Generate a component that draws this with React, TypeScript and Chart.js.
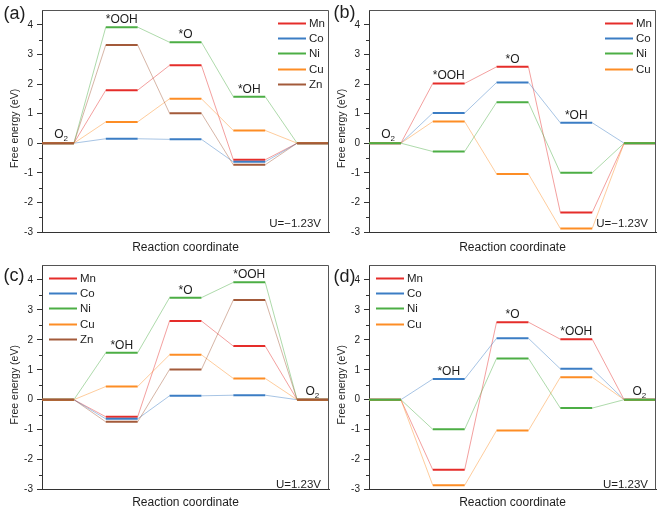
import React, { useEffect, useRef } from 'react';
import { Chart, registerables } from 'chart.js';
Chart.register(...registerables);

// ---------- data ----------
const yTickValues = [-3, -2, -1, 0, 1, 2, 3, 4];
const yMinorTicks = [-2.5, -1.5, -0.5, 0.5, 1.5, 2.5, 3.5];

const metals5 = ['Mn', 'Co', 'Ni', 'Cu', 'Zn'];
const metals4 = ['Mn', 'Co', 'Ni', 'Cu'];

// U = -1.23 V, steps: O2, *OOH, *O, *OH, end
const stepsOER = ['O2', '*OOH', '*O', '*OH', ''];
// U = 1.23 V, steps: start, *OH, *O, *OOH, O2
const stepsORR = ['', '*OH', '*O', '*OOH', 'O2'];

// panel (a)
const mnA = [0, 1.79, 2.63, -0.56, 0];
const coA = [0, 0.15, 0.13, -0.63, 0];
const niA = [0, 3.92, 3.41, 1.57, 0];
const cuA = [0, 0.72, 1.5, 0.43, 0];
const znA = [0, 3.32, 1.01, -0.73, 0];

// panel (b)
const mnB = [0, 2.02, 2.58, -2.34, 0];
const coB = [0, 1.02, 2.05, 0.69, 0];
const niB = [0, -0.28, 1.38, -1.0, 0];
const cuB = [0, 0.73, -1.04, -2.88, 0];

// panel (c)
const mnC = [0, -0.57, 2.63, 1.79, 0];
const coC = [0, -0.64, 0.13, 0.15, 0];
const niC = [0, 1.57, 3.41, 3.92, 0];
const cuC = [0, 0.44, 1.5, 0.71, 0];
const znC = [0, -0.74, 1.01, 3.33, 0];

// panel (d)
const mnD = [0, -2.34, 2.59, 2.02, 0];
const coD = [0, 0.69, 2.05, 1.03, 0];
const niD = [0, -0.99, 1.38, -0.28, 0];
const cuD = [0, -2.86, -1.03, 0.75, 0];

// ---------- styles ----------
const COLORS: Record<string, string> = {
  Mn: '#e52d2a',
  Co: '#3b7dc4',
  Ni: '#4cae45',
  Cu: '#fd8d25',
  Zn: '#a35a3a',
};
const FONT = "'Liberation Sans', Arial, sans-serif";
const TEXT = '#1e1e1e';

function fade(hex: string, a: number) {
  const n = parseInt(hex.slice(1), 16);
  return `rgba(${(n >> 16) & 255},${(n >> 8) & 255},${n & 255},${a})`;
}

const decorPlugin = {
  id: 'decor',
  afterDraw(chart: any) {
    const cfg = chart.options.plugins.decor;
    if (!cfg) return;
    const { ctx, chartArea: ca } = chart;
    const x = chart.scales.x;
    const y = chart.scales.y;
    ctx.save();
    // frame top/right
    ctx.strokeStyle = '#555';
    ctx.lineWidth = 1;
    ctx.beginPath();
    ctx.moveTo(ca.left, Math.round(ca.top) + 0.5);
    ctx.lineTo(Math.round(ca.right) - 0.5, Math.round(ca.top) + 0.5);
    ctx.lineTo(Math.round(ca.right) - 0.5, ca.bottom);
    ctx.stroke();
    // minor ticks
    ctx.strokeStyle = '#333';
    ctx.beginPath();
    for (const v of yMinorTicks) {
      const py = Math.round(y.getPixelForValue(v)) + 0.5;
      ctx.moveTo(ca.left - 3, py);
      ctx.lineTo(ca.left, py);
    }
    ctx.stroke();

    ctx.fillStyle = TEXT;
    // y title
    ctx.save();
    const ym = (y.getPixelForValue(yTickValues[0]) + y.getPixelForValue(yTickValues[yTickValues.length - 1])) / 2;
    ctx.translate(ca.left - 27, ym);
    ctx.rotate(-Math.PI / 2);
    ctx.font = `10.5px ${FONT}`;
    ctx.textAlign = 'center';
    ctx.textBaseline = 'middle';
    ctx.fillText('Free energy (eV)', 0, 0);
    ctx.restore();

    // step labels
    const steps: string[] = cfg.steps;
    const ds = chart.data.datasets;
    steps.forEach((lab: string, i: number) => {
      if (!lab) return;
      let maxV = -Infinity;
      ds.forEach((d: any) => {
        maxV = Math.max(maxV, d.data[2 * i].y);
      });
      const py = y.getPixelForValue(maxV);
      if (lab === 'O2') {
        const cx = x.getPixelForValue(2 * i + (i === 0 ? 0.6 : 0.48));
        ctx.font = `12px ${FONT}`;
        const wO = ctx.measureText('O').width;
        ctx.font = `8px ${FONT}`;
        const w2 = ctx.measureText('2').width;
        const left = cx - (wO + w2) / 2;
        ctx.textAlign = 'left';
        ctx.textBaseline = 'alphabetic';
        ctx.font = `12px ${FONT}`;
        ctx.fillText('O', left, py - 5);
        ctx.font = `8px ${FONT}`;
        ctx.fillText('2', left + wO, py - 2);
      } else {
        const cx = x.getPixelForValue(2 * i + 0.5);
        ctx.font = `12px ${FONT}`;
        ctx.textAlign = 'center';
        ctx.textBaseline = 'alphabetic';
        ctx.fillText(lab, cx, py - 4);
      }
    });

    // legend
    const names: string[] = cfg.names;
    ctx.font = `11.5px ${FONT}`;
    ctx.textBaseline = 'middle';
    ctx.textAlign = 'left';
    names.forEach((n: string, k: number) => {
      const ly = Math.round(ca.top + 13 + k * 15.2) + 0.5;
      const lx0 = cfg.legendSide === 'right' ? ca.right - 51 : ca.left + 7;
      ctx.strokeStyle = COLORS[n];
      ctx.lineWidth = 2;
      ctx.beginPath();
      ctx.moveTo(lx0, ly);
      ctx.lineTo(lx0 + 28, ly);
      ctx.stroke();
      ctx.fillStyle = TEXT;
      ctx.fillText(n, lx0 + 31, ly + 0.5);
    });

    // U label
    ctx.font = `11.5px ${FONT}`;
    ctx.textAlign = 'right';
    ctx.textBaseline = 'alphabetic';
    ctx.fillText(cfg.u, ca.right - 8, ca.bottom - cfg.uOffset);

    // panel letter
    ctx.font = `18px ${FONT}`;
    ctx.textAlign = 'left';
    ctx.fillText(cfg.letter, 3.5, cfg.letterY);
    ctx.restore();
  },
};

type PanelProps = {
  names: string[];
  values: number[][];
  orders: number[];
  steps: string[];
  u: string;
  letter: string;
  letterY: number;
  uOffset: number;
  legendSide: 'left' | 'right';
  left: number;
  top: number;
  width: number;
  height: number;
  yAxisWidth: number;
  padTop: number;
  padRight: number;
  xAxisHeight: number;
};

function Panel(p: PanelProps) {
  const ref = useRef<HTMLCanvasElement>(null);
  useEffect(() => {
    if (!ref.current) return;
    const datasets = p.names.map((n, k) => {
      const c = COLORS[n];
      const pts: { x: number; y: number }[] = [];
      p.values[k].forEach((v, i) => {
        pts.push({ x: 2 * i, y: v });
        pts.push({ x: 2 * i + 1, y: v });
      });
      return {
        label: n,
        data: pts,
        order: p.orders[k],
        borderColor: c,
        borderWidth: 2,
        pointRadius: 0,
        tension: 0,
        fill: false,
        segment: {
          borderColor: (ctx: any) => (ctx.p0DataIndex % 2 === 0 ? c : fade(c, 0.45)),
          borderWidth: (ctx: any) => (ctx.p0DataIndex % 2 === 0 ? 2 : 1),
        },
      };
    });
    const chart = new Chart(ref.current, {
      type: 'line',
      data: { datasets },
      plugins: [decorPlugin],
      options: {
        animation: false,
        responsive: false,
        events: [],
        layout: { padding: { top: p.padTop, right: p.padRight, left: 0, bottom: 0 } },
        scales: {
          x: {
            type: 'linear',
            min: 0,
            max: 9,
            grid: { display: false },
            border: { display: true, color: '#333', width: 1 },
            ticks: { display: false },
            title: {
              display: true,
              text: 'Reaction coordinate',
              color: TEXT,
              font: { family: FONT, size: 12 },
              padding: { top: 0, bottom: 0 },
            },
            afterFit: (s: any) => {
              s.height = p.xAxisHeight;
            },
          },
          y: {
            type: 'linear',
            min: -3,
            max: 4.5,
            grid: {
              display: true,
              drawOnChartArea: false,
              drawTicks: true,
              tickLength: 5,
              tickColor: '#333',
            },
            border: { display: true, color: '#333', width: 1 },
            ticks: {
              autoSkip: false,
              padding: 4,
              color: TEXT,
              font: { family: FONT, size: 10 },
              callback: (v: any) => String(v),
            },
            afterBuildTicks: (s: any) => {
              s.ticks = yTickValues.map((v) => ({ value: v }));
            },
            afterFit: (s: any) => {
              s.width = p.yAxisWidth;
            },
          },
        },
        plugins: {
          legend: { display: false },
          tooltip: { enabled: false },
          decor: {
            steps: p.steps,
            names: p.names,
            u: p.u,
            letter: p.letter,
            letterY: p.letterY,
            uOffset: p.uOffset,
            legendSide: p.legendSide,
          },
        } as any,
      },
    } as any);
    return () => chart.destroy();
  }, []);
  return (
    <canvas
      ref={ref}
      width={p.width}
      height={p.height}
      style={{ position: 'absolute', left: p.left, top: p.top, width: p.width, height: p.height }}
    />
  );
}

export default function App() {
  return (
    <div style={{ position: 'absolute', left: 0, top: 0, width: 659, height: 510, background: '#fff' }}>
      <Panel
        names={metals5}
        values={[mnA, coA, niA, cuA, znA]}
        orders={[4, 3, 2, 1, 0]}
        steps={stepsOER}
        u="U=−1.23V"
        letter="(a)"
        letterY={19}
        uOffset={5}
        legendSide="right"
        left={0}
        top={0}
        width={330}
        height={255}
        yAxisWidth={42}
        padTop={2}
        padRight={1}
        xAxisHeight={23}
      />
      <Panel
        names={metals4}
        values={[mnB, coB, niB, cuB]}
        orders={[3, 2, 0, 1]}
        steps={stepsOER}
        u="U=−1.23V"
        letter="(b)"
        letterY={18}
        uOffset={5}
        legendSide="right"
        left={330}
        top={0}
        width={329}
        height={255}
        yAxisWidth={39}
        padTop={2}
        padRight={3}
        xAxisHeight={23}
      />
      <Panel
        names={metals5}
        values={[mnC, coC, niC, cuC, znC]}
        orders={[4, 3, 2, 1, 0]}
        steps={stepsORR}
        u="U=1.23V"
        letter="(c)"
        letterY={26}
        uOffset={2}
        legendSide="left"
        left={0}
        top={255}
        width={330}
        height={255}
        yAxisWidth={42}
        padTop={3.5}
        padRight={1}
        xAxisHeight={20.5}
      />
      <Panel
        names={metals4}
        values={[mnD, coD, niD, cuD]}
        orders={[3, 2, 0, 1]}
        steps={stepsORR}
        u="U=1.23V"
        letter="(d)"
        letterY={27}
        uOffset={2}
        legendSide="left"
        left={330}
        top={255}
        width={329}
        height={255}
        yAxisWidth={39}
        padTop={3.5}
        padRight={3}
        xAxisHeight={20.5}
      />
    </div>
  );
}
